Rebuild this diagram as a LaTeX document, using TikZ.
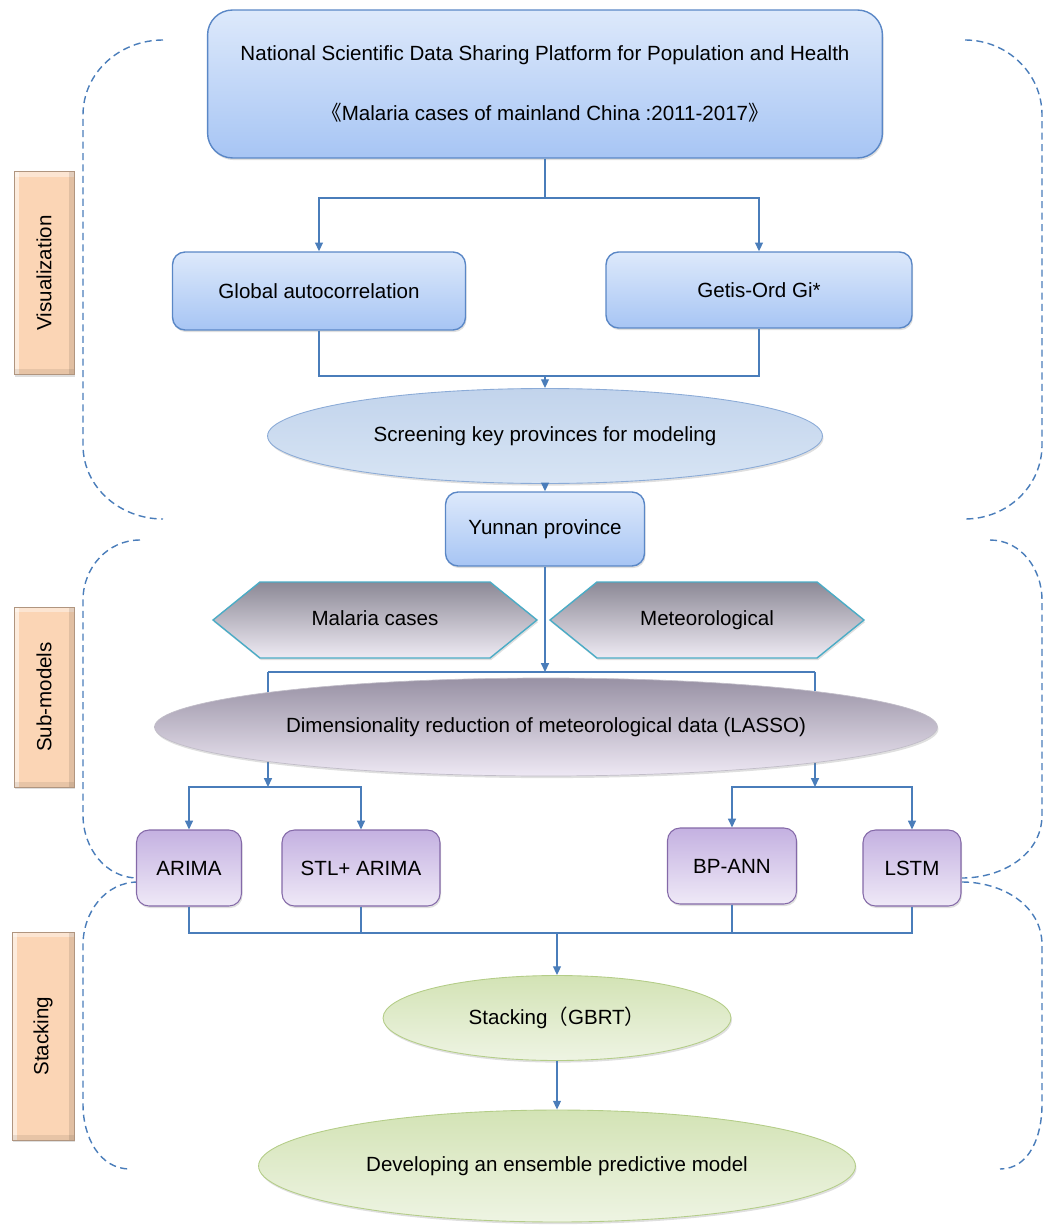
\documentclass[tikz,border=0pt]{standalone}
\usepackage{fontspec}
\setmainfont{Liberation Sans}
\newfontfamily\cjk{Noto Sans CJK SC}
\usepackage{graphicx}
\definecolor{flowblue}{HTML}{4A7DBA}
\definecolor{boxline}{HTML}{5A87C6}
\definecolor{boxtop}{HTML}{DDE9FB}
\definecolor{boxbot}{HTML}{A7C5F4}
\definecolor{screentop}{HTML}{C2D4EC}
\definecolor{screenbot}{HTML}{D7E4F4}
\definecolor{hexline}{HTML}{4BACC6}
\definecolor{hextop}{HTML}{8C8996}
\definecolor{hexbot}{HTML}{EEEAF3}
\definecolor{lassotop}{HTML}{9891A4}
\definecolor{lassobot}{HTML}{EEE8F4}
\definecolor{modline}{HTML}{8469A8}
\definecolor{modtop}{HTML}{C4B1E1}
\definecolor{modbot}{HTML}{EFE9F7}
\definecolor{greenline}{HTML}{B4CD88}
\definecolor{greentop}{HTML}{D3E3B5}
\definecolor{greenbot}{HTML}{EEF4E3}
\definecolor{peach}{HTML}{FBD5B5}
\usepackage{tikz}
\usetikzlibrary{shapes.geometric, shapes.symbols, arrows.meta, shadows, backgrounds}

\begin{document}
\begin{tikzpicture}[
        x=0.02cm, y=-0.02cm,
        font=\fontsize{11.7}{14}\selectfont,
        shade/.style={drop shadow={opacity=0.25, shadow xshift=0.6pt, shadow yshift=-1.2pt}},
        srcbox/.style={shade, draw=boxline, line width=0.8pt, top color=boxtop, bottom color=boxbot,
                      rounded corners=0.25cm},
        stagebox/.style={shade, draw=peach!70!black, line width=0.4pt, fill=peach,
                      minimum width=1.2cm, inner sep=0pt,
                      path picture={
                        \fill[white, opacity=0.55] (path picture bounding box.north west)
                          rectangle ([xshift=3pt]path picture bounding box.south west);
                        \fill[white, opacity=0.4] (path picture bounding box.north west)
                          rectangle ([yshift=-3pt]path picture bounding box.north east);
                        \fill[black, opacity=0.1] (path picture bounding box.north east)
                          rectangle ([xshift=-3pt]path picture bounding box.south east);
                        \fill[black, opacity=0.08] (path picture bounding box.south west)
                          rectangle ([yshift=3pt]path picture bounding box.south east);
                      }},
        datahex/.style={shade, draw=hexline, line width=0.8pt, top color=hextop, bottom color=hexbot,
                      shape=signal, signal to=west and east, signal pointer angle=78,
                      minimum height=1.52cm, inner sep=0pt, text height=1.6ex, text depth=0.45ex},
        modbox/.style={shade, draw=modline, line width=0.6pt, top color=modtop, bottom color=modbot,
                      rounded corners=0.25cm, minimum height=1.52cm},
        greenell/.style={shade, ellipse, draw=greenline, line width=0.5pt, top color=greentop,
                      bottom color=greenbot, inner sep=0pt},
        link/.style={flowblue, line width=0.8pt},
        conn/.style={link, -{Triangle[length=5pt, width=4.5pt]}},
        brk/.style={flowblue, line width=0.8pt, dash pattern=on 4pt off 2.5pt}
      ]
        \useasboundingbox (0,0) rectangle (1050,1226);

        % stage labels
        \node[stagebox, minimum height=4.06cm] (vis) at (44,273) {\rotatebox{90}{Visualization}};
        \node[stagebox, minimum height=3.6cm] (sub) at (44,697) {\rotatebox{90}{Sub-models}};
        \node[stagebox, minimum height=4.16cm, minimum width=1.24cm] (stk) at (43,1036) {\rotatebox{90}{Stacking}};

        % dashed brackets
        \draw[brk] (163,40) to[out=180, in=90] (83,115) -- (83,445) to[out=-90, in=180] (163,519);
        \draw[brk] (965,40) to[out=0, in=90] (1042,115) -- (1042,445) to[out=-90, in=0] (965,519);
        \draw[brk] (140,540) to[out=180, in=90] (83,600) -- (83,815) to[out=-90, in=180] (138,878);
        \draw[brk] (990,540) to[out=0, in=90] (1042,600) -- (1042,815) to[out=-90, in=0] (962,878);
        \draw[brk] (138,882) to[out=180, in=90] (83,945) -- (83,1105) to[out=-90, in=180] (130,1169);
        \draw[brk] (962,882) to[out=0, in=90] (1042,945) -- (1042,1105) to[out=-90, in=0] (1000,1169);

        % visualization
        \node[srcbox, rounded corners=0.5cm, minimum width=13.5cm, minimum height=2.96cm, align=center]
          (src) at (545,84) {\raisebox{-8pt}{National Scientific Data Sharing Platform for Population and Health}\\[21pt]
          {\cjk 《}Malaria cases of mainland China :2011-2017{\cjk 》}};
        \node[srcbox, minimum width=5.86cm, minimum height=1.56cm] (glob) at (319,291) {Global autocorrelation};
        \node[srcbox, minimum width=6.12cm, minimum height=1.52cm] (gios) at (759,290) {Getis-Ord Gi*};
        \node[shade, ellipse, draw=boxline!70, line width=0.5pt, top color=screentop, bottom color=screenbot,
              minimum width=11.1cm, minimum height=1.9cm] (screen) at (545,436) {Screening key provinces for modeling};
        \node[srcbox, minimum width=3.98cm, minimum height=1.48cm] (yun) at (545,529) {Yunnan province};

        % sub-models
        \node[datahex, minimum width=6.48cm] (cases) at (375,620) {Malaria cases};
        \node[datahex, minimum width=6.28cm] (meteo) at (707,620) {Meteorological};
        \node[shade, ellipse, draw=lassotop!60, line width=0.4pt, top color=lassotop, bottom color=lassobot,
              minimum width=15.66cm, minimum height=1.96cm] (lasso) at (546,727)
              {Dimensionality reduction of meteorological data (LASSO)};
        \node[modbox, minimum width=2.1cm] (arima) at (189,868) {ARIMA};
        \node[modbox, minimum width=3.16cm] (stl) at (361,868) {STL+ ARIMA};
        \node[modbox, minimum width=2.58cm] (bpann) at (732,866) {BP-ANN};
        \node[modbox, minimum width=1.96cm] (lstm) at (912,868) {LSTM};

        % stacking
        \node[greenell, minimum width=6.96cm, minimum height=1.7cm] (gbrt) at (557,1018)
              {Stacking{\cjk （}GBRT{\cjk ）}};
        \node[greenell, minimum width=11.94cm, minimum height=2.24cm] (final) at (557,1166)
              {Developing an ensemble predictive model};

        \coordinate (split) at (545,198);
        \coordinate (merge) at (545,376);
        \coordinate (bar) at (545,672);
        \coordinate (barl) at (268,672);
        \coordinate (barr) at (815,672);
        \coordinate (forkl) at (268,787);
        \coordinate (forkr) at (815,787);
        \coordinate (join) at (557,933);

        \draw[link] (src) -- (split);
        \draw[conn] (split) -| (glob);
        \draw[conn] (split) -| (gios);
        \draw[link] (glob) |- (merge);
        \draw[link] (gios) |- (merge);
        \draw[conn] (merge) -- (screen);
        \draw[conn] (screen) -- (yun);
        \draw[conn] (yun) -- (bar);
        \draw[link] (barl) -- (barr);
        \begin{scope}[on background layer]
          \draw[link] (barl) -- (barl |- lasso.center);
          \draw[link] (barr) -- (barr |- lasso.center);
          \draw[conn] (barl |- lasso.center) -- (forkl);
          \draw[conn] (barr |- lasso.center) -- (forkr);
        \end{scope}
        \draw[conn] (forkl) -| (arima);
        \draw[conn] (forkl) -| (stl);
        \draw[conn] (forkr) -| (bpann);
        \draw[conn] (forkr) -| (lstm);
        \draw[link] (arima) |- (join);
        \draw[link] (stl) |- (join);
        \draw[link] (bpann) |- (join);
        \draw[link] (lstm) |- (join);
        \draw[conn] (join) -- (gbrt);
        \draw[conn] (gbrt) -- (final);
      \end{tikzpicture}
\end{document}
